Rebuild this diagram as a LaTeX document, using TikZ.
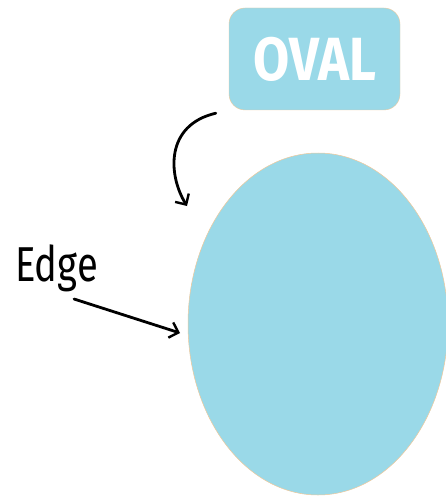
\documentclass[tikz,border=0pt]{standalone}
\usepackage{xcolor}
\usepackage{fontspec}
\setmainfont{Fira Sans}
\usepackage{tikz}
\usetikzlibrary{shapes,arrows,arrows.meta}
\usetikzlibrary{positioning}
\definecolor{ovalblue}{HTML}{9AD9E8}
\definecolor{ovalrim}{HTML}{F0C89A}
\tikzstyle{tag} = [rectangle, draw=ovalrim, fill=ovalblue, rounded corners=16pt,
    minimum width=171pt, minimum height=102pt, inner sep=0pt, text=white,
    font=\fontsize{61}{61}\selectfont\bfseries]
\tikzstyle{blob} = [ellipse, draw=ovalrim, fill=ovalblue, line width=0.5pt,
    minimum width=260pt, minimum height=342pt, inner sep=0pt]
\tikzstyle{word} = [inner sep=0pt, font=\fontsize{49}{49}\selectfont]
\tikzstyle{line} = [draw, line width=2.8pt, line cap=round,
    -{Straight Barb[length=8pt,width=16pt,line width=2.4pt]}]

\begin{document}
\begin{tikzpicture}[x=1pt, y=-1pt]
  \useasboundingbox (0,0) rectangle (445,497);
  % Place nodes
  \node [blob] (shape) at (318,324) {};
  \node [tag] (ovaltag) at (314.5,59) {\scalebox{0.86}[1]{OVAL}};
  \node [word, anchor=base west] (edgeword) at (15,281) {\scalebox{0.78}[1]{Edge}};
  \coordinate (top) at (187,206);
  \coordinate (rim) at (180,333);
  % Draw edges
  \path [line] ([xshift=-13pt,yshift=-3pt]ovaltag.south west)
    .. controls (165,125) and (168,175) .. (top);
  \path [line] ([xshift=-24pt,yshift=-18pt]edgeword.base east) -- (rim);
\end{tikzpicture}
\end{document}
